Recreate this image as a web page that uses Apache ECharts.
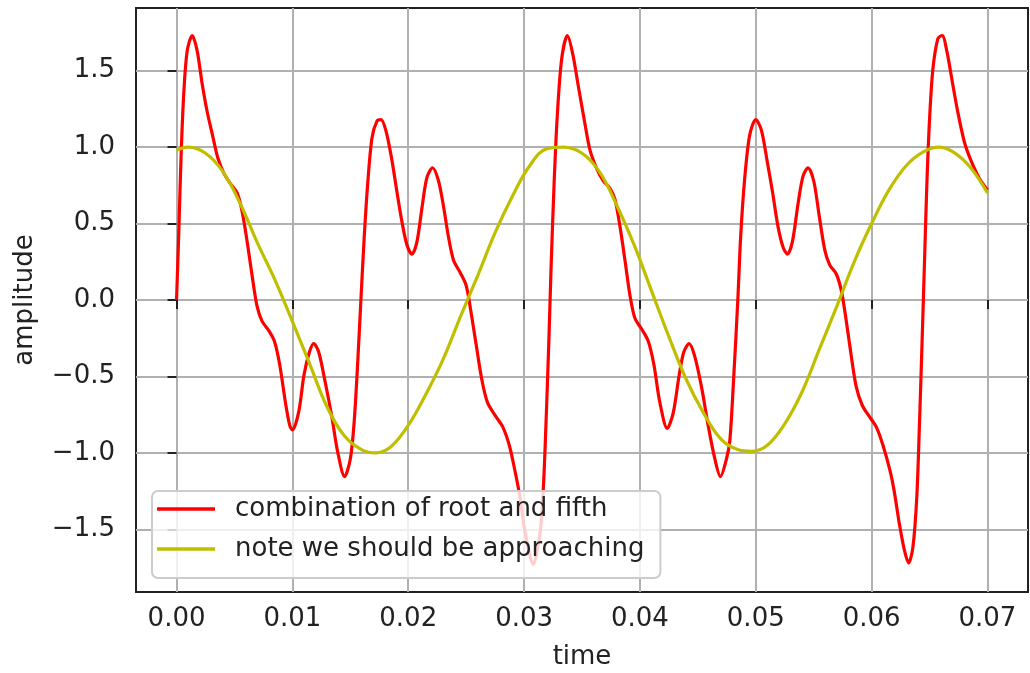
<!DOCTYPE html>
<html>
<head>
<meta charset="utf-8">
<title>root and fifth</title>
<script src="https://cdn.jsdelivr.net/npm/echarts@6/dist/echarts.min.js"></script>
<style>
  html, body { margin: 0; padding: 0; background: #fff; }
  #chart { width: 1030px; height: 673px; }
</style>
</head>
<body>
<div id="chart"></div>
<script>
// values
const xTicks = [0, 0.01, 0.02, 0.03, 0.04, 0.05, 0.06, 0.07];
const yTicks = [-1.5, -1.0, -0.5, 0.0, 0.5, 1.0, 1.5];

const redTime = [
  0, 0.0002, 0.0004, 0.00063, 0.00092, 0.00135, 0.00178, 0.0022, 0.00265, 0.0031,
  0.00356, 0.00408, 0.00466, 0.00523, 0.00566, 0.0061, 0.00652, 0.00695, 0.00739, 0.00796,
  0.00845, 0.0089, 0.0094, 0.00977, 0.0100, 0.01055, 0.0110, 0.01147, 0.01184, 0.01227,
  0.01284, 0.01342, 0.0139, 0.01451, 0.0150, 0.01534, 0.01563, 0.01592, 0.0162, 0.0165,
  0.01687, 0.0173, 0.01765, 0.0181, 0.0186, 0.01902, 0.01946, 0.01989, 0.02032, 0.02075,
  0.02118, 0.02161, 0.0221, 0.02261, 0.02305, 0.02348, 0.02391, 0.02448, 0.025, 0.0254,
  0.02586, 0.02635, 0.02684, 0.0275, 0.02816, 0.02874, 0.02922, 0.0296, 0.03009, 0.0308,
  0.03138, 0.03167, 0.0319, 0.03213, 0.03233, 0.03259, 0.03287, 0.03325, 0.03374, 0.0342,
  0.03468, 0.03526, 0.03569, 0.03627, 0.03684, 0.03741, 0.03784, 0.03828, 0.03871, 0.03914,
  0.03957, 0.04015, 0.04072, 0.0412, 0.04172, 0.04236, 0.04287, 0.04339, 0.04379, 0.04425,
  0.04474, 0.04532, 0.04589, 0.04647, 0.04695, 0.04747, 0.04776, 0.0481, 0.04845, 0.0487,
  0.04905, 0.04948, 0.0500, 0.05049, 0.05098, 0.05144, 0.05192, 0.05236, 0.05273, 0.05316,
  0.05365, 0.05408, 0.05451, 0.0550, 0.05546, 0.05595, 0.05638, 0.05695, 0.05739, 0.05782,
  0.05825, 0.05868, 0.0592, 0.05983, 0.0604, 0.06098, 0.0616, 0.06195, 0.06241,
  0.06284, 0.06319, 0.06356, 0.0639, 0.06414, 0.06437, 0.06457, 0.06477, 0.0650, 0.06529,
  0.06572, 0.06609, 0.06649, 0.06696, 0.06744, 0.06802, 0.06859, 0.06931, 0.0700
];
const redAmp = [
  0, 0.46, 0.96, 1.36, 1.63, 1.73, 1.63, 1.42, 1.23, 1.08,
  0.93, 0.83, 0.76, 0.70, 0.58, 0.38, 0.16, -0.04, -0.14, -0.20,
  -0.27, -0.42, -0.67, -0.82, -0.85, -0.73, -0.49, -0.34, -0.285, -0.34,
  -0.54, -0.77, -0.99, -1.155, -1.04, -0.79, -0.42, 0.01, 0.41, 0.76,
  1.06, 1.17, 1.18, 1.10, 0.91, 0.71, 0.51, 0.36, 0.30, 0.38,
  0.60, 0.80, 0.865, 0.78, 0.61, 0.41, 0.26, 0.18, 0.095, -0.07,
  -0.29, -0.52, -0.67, -0.755, -0.83, -0.955, -1.12, -1.27, -1.52, -1.73,
  -1.52, -1.22, -0.79, -0.29, 0.21, 0.76, 1.21, 1.58, 1.73, 1.61,
  1.40, 1.15, 0.98, 0.86, 0.78, 0.73, 0.66, 0.48, 0.26, 0.03,
  -0.12, -0.19, -0.27, -0.42, -0.67, -0.84, -0.74, -0.49, -0.34, -0.285,
  -0.37, -0.57, -0.82, -1.04, -1.155, -1.04, -0.92, -0.50, 0.0, 0.42,
  0.80, 1.08, 1.18, 1.11, 0.91, 0.71, 0.48, 0.345, 0.30, 0.38,
  0.63, 0.81, 0.865, 0.78, 0.56, 0.33, 0.23, 0.17, 0.06, -0.14,
  -0.37, -0.57, -0.69, -0.765, -0.83, -0.95, -1.12, -1.25, -1.47,
  -1.64, -1.72, -1.62, -1.29, -0.79, -0.24, 0.26, 0.76, 1.18, 1.51,
  1.71, 1.73, 1.63, 1.43, 1.23, 1.03, 0.91, 0.795, 0.72
];

const noteTime = [
  0, 0.001, 0.0025, 0.004, 0.0055, 0.007, 0.0085, 0.010, 0.0115,
  0.013, 0.0145, 0.016, 0.0172, 0.0185, 0.020, 0.0215, 0.023, 0.0245,
  0.026, 0.0275, 0.029, 0.0305, 0.032, 0.0334, 0.035, 0.0365, 0.038, 0.0395,
  0.041, 0.0425, 0.044, 0.0455, 0.047, 0.0485, 0.0496, 0.051, 0.0525, 0.054,
  0.0555, 0.057, 0.0585, 0.060, 0.0615, 0.063, 0.0645, 0.0658, 0.067, 0.0685,
  0.070
];
const noteAmp = [
  0.98, 1.0, 0.96, 0.84, 0.63, 0.37, 0.13, -0.14, -0.42,
  -0.70, -0.89, -0.98, -1.0, -0.96, -0.82, -0.62, -0.39, -0.11,
  0.16, 0.44, 0.68, 0.88, 0.99, 1.0, 0.96, 0.84, 0.62, 0.36,
  0.06, -0.24, -0.52, -0.74, -0.91, -0.98, -0.99, -0.95, -0.81, -0.60,
  -0.32, -0.04, 0.25, 0.50, 0.72, 0.88, 0.97, 1.0, 0.97, 0.87,
  0.70
];

const font = 'DejaVu Sans';
const textColor = '#222';

const chart = echarts.init(document.getElementById('chart'));

chart.setOption({
  animation: false,
  backgroundColor: '#fff',
  grid: {
    left: 136, right: 2, top: 8, bottom: 81,
    outerBoundsMode: 'none',
    containLabel: false,
    show: true,
    borderColor: '#222',
    borderWidth: 2
  },
  legend: {
    orient: 'vertical',
    left: 152,
    top: 491,
    icon: 'rect',
    itemWidth: 58,
    itemHeight: 3.5,
    itemGap: 4,
    padding: [0, 16, 11, 5],
    backgroundColor: 'rgba(255,255,255,0.8)',
    borderColor: '#cccccc',
    borderWidth: 2,
    borderRadius: 6,
    textStyle: {
      fontFamily: font,
      fontSize: 26,
      color: textColor,
      lineHeight: 36,
      padding: [0, 0, 0, 15]
    },
    data: ['combination of root and fifth', 'note we should be approaching']
  },
  xAxis: {
    type: 'value',
    min: -0.0035,
    max: 0.0735,
    name: 'time',
    nameLocation: 'middle',
    nameGap: 52,
    nameTextStyle: { fontFamily: font, fontSize: 26, color: textColor },
    axisLine: { show: false },
    axisTick: {
      show: true, length: 9, customValues: xTicks,
      lineStyle: { color: '#222', width: 2 }
    },
    axisLabel: {
      customValues: xTicks,
      margin: 14,
      fontFamily: font, fontSize: 26, color: textColor,
      formatter: v => v.toFixed(2)
    },
    splitLine: { show: true, lineStyle: { color: '#b0b0b0', width: 2 } }
  },
  yAxis: {
    type: 'value',
    min: -1.91,
    max: 1.91,
    name: 'amplitude',
    nameLocation: 'middle',
    nameGap: 98,
    nameRotate: 90,
    nameTextStyle: { fontFamily: font, fontSize: 26, color: textColor },
    axisLine: { show: false },
    axisTick: {
      show: true, length: 9, customValues: yTicks,
      lineStyle: { color: '#222', width: 2 }
    },
    axisLabel: {
      customValues: yTicks,
      margin: 21,
      fontFamily: font, fontSize: 26, color: textColor,
      formatter: v => (v < 0 ? '\u2212' : '') + Math.abs(v).toFixed(1)
    },
    splitLine: { show: true, lineStyle: { color: '#b0b0b0', width: 2 } }
  },
  series: [
    {
      name: 'combination of root and fifth',
      type: 'line',
      data: redTime.map((t, i) => [t, redAmp[i]]),
      symbol: 'none',
      smooth: 0.3,
      lineStyle: { color: '#ff0000', width: 3.2 },
      itemStyle: { color: '#ff0000' }
    },
    {
      name: 'note we should be approaching',
      type: 'line',
      data: noteTime.map((t, i) => [t, noteAmp[i]]),
      symbol: 'none',
      smooth: 0.4,
      lineStyle: { color: '#bfbf00', width: 3.2 },
      itemStyle: { color: '#bfbf00' }
    }
  ]
});
</script>
</body>
</html>
